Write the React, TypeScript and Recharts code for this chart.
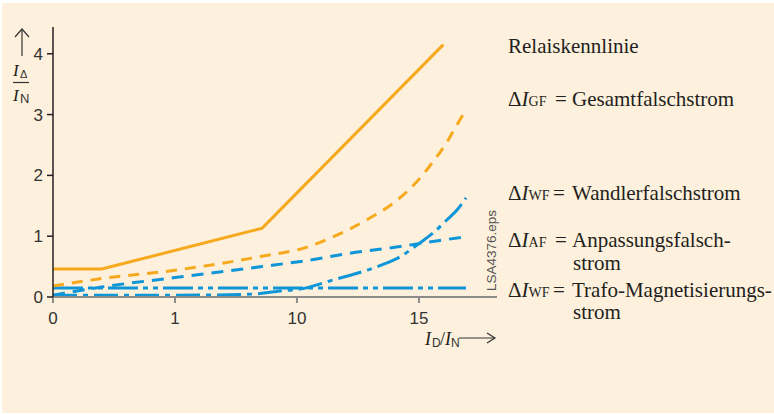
import { LineChart, Line, XAxis, YAxis } from 'recharts'

// x values in I_D/I_N, y values in I_Δ/I_N
const relaisX = [0, 0.4, 7.42, 16]
const relaisY = [0.46, 0.46, 1.13, 4.15]

const gesamtX = [0, 0.385, 1, 7.42, 10.41, 11.48, 12.87, 14.22, 14.92, 15.57, 16.15, 16.48, 16.89]
const gesamtY = [0.18, 0.3, 0.44, 0.67, 0.82, 0.99, 1.27, 1.63, 1.9, 2.22, 2.55, 2.78, 3.05]

const wandlerX = [0, 1, 5.8, 7.42, 8.75, 10.12, 11.48, 12.87, 13.69, 14.22, 15.04, 15.57, 16.15, 16.56, 16.93]
const wandlerY = [0.03, 0.03, 0.04, 0.06, 0.1, 0.13, 0.28, 0.44, 0.56, 0.66, 0.89, 1.05, 1.27, 1.43, 1.63]

const anpassX = [0, 0.385, 1, 7.42, 10.41, 12.17, 14.22, 15.86, 16.89]
const anpassY = [0.03, 0.16, 0.32, 0.5, 0.6, 0.72, 0.83, 0.93, 0.99]

const trafoX = [0, 16.93]
const trafoY = [0.15, 0.15]

// the x axis is stretched piecewise: 0..1, 1..10, 10..15 each get one unit
const xTicks = [0, 1, 10, 15]
const yTicks = [0, 1, 2, 3, 4]

const ORANGE = '#F7A91E'
const BLUE = '#0E96D8'
const INK = '#231F20'
const SERIF = "'Liberation Serif', 'DejaVu Serif', serif"
const SANS = "'Liberation Sans', Arial, sans-serif"

function toAxis(x: number) {
  if (x <= 1) return x
  if (x <= 10) return 1 + (x - 1) / 9
  return 2 + (x - 10) / 5
}

function series(xs: number[], ys: number[]) {
  return xs.map((x, i) => ({ x: toAxis(x), y: ys[i] }))
}

const tickStyle = { fontFamily: SANS, fontSize: 17, fill: '#333' }

export default function App() {
  return (
    <div style={{ position: 'fixed', left: 0, top: 0, width: 774, height: 414, background: '#fff' }}>
      <div style={{ position: 'absolute', left: 2, top: 3, width: 772, height: 410, background: '#FDF0DC' }} />
      <div style={{ position: 'absolute', left: 0, top: 0 }}>
        <LineChart width={774} height={414} margin={{ top: 27, right: 277, bottom: 87, left: 13 }}>
          <XAxis
            dataKey="x"
            type="number"
            domain={[0, 3.64]}
            ticks={xTicks.map(toAxis)}
            tickFormatter={(v: number) => String(xTicks[Math.round(v)])}
            allowDataOverflow
            height={30}
            stroke="#8C8C8C"
            strokeWidth={2}
            tickSize={6}
            tickMargin={9}
            tick={tickStyle}
          />
          <YAxis
            type="number"
            domain={[0, 4.44]}
            ticks={yTicks}
            allowDataOverflow
            width={40}
            stroke="#231F20"
            strokeWidth={1.5}
            tickSize={6}
            tickMargin={4}
            tick={tickStyle}
          />
          <Line data={series(trafoX, trafoY)} dataKey="y" type="linear" stroke={BLUE} strokeWidth={3}
            strokeDasharray="30 5 5 5 5 5" dot={false} isAnimationActive={false} />
          <Line data={series(wandlerX, wandlerY)} dataKey="y" type="monotone" stroke={BLUE} strokeWidth={3}
            strokeDasharray="24 6 5 6" dot={false} isAnimationActive={false} />
          <Line data={series(anpassX, anpassY)} dataKey="y" type="monotone" stroke={BLUE} strokeWidth={3}
            strokeDasharray="12 8" dot={false} isAnimationActive={false} />
          <Line data={series(gesamtX, gesamtY)} dataKey="y" type="monotone" stroke={ORANGE} strokeWidth={3}
            strokeDasharray="11 8" dot={false} isAnimationActive={false} />
          <Line data={series(relaisX, relaisY)} dataKey="y" type="linear" stroke={ORANGE} strokeWidth={3}
            dot={false} isAnimationActive={false} />
        </LineChart>
      </div>

      <svg width={774} height={414} style={{ position: 'absolute', left: 0, top: 0, pointerEvents: 'none' }}>
        {/* y label */}
        <g stroke="#333" strokeWidth={1.2} fill="none">
          <line x1={22} y1={29} x2={22} y2={56} />
          <polyline points="15,37 22,29 29,37" />
          <line x1={13} y1={82.5} x2={29} y2={82.5} />
        </g>
        <text x={13} y={76} fontFamily={SERIF} fontSize={17} fontStyle="italic" fill={INK}>I</text>
        <text x={20} y={78} fontFamily={SANS} fontSize={11} fill="#333">Δ</text>
        <text x={13} y={101} fontFamily={SERIF} fontSize={17} fontStyle="italic" fill={INK}>I</text>
        <text x={20} y={103} fontFamily={SANS} fontSize={13} fill="#333">N</text>

        {/* x label */}
        <text x={425} y={345} fontFamily={SERIF} fontSize={18} fontStyle="italic" fill={INK}>I</text>
        <text x={432} y={347} fontFamily={SANS} fontSize={12} fill="#333">D</text>
        <text x={440} y={345} fontFamily={SERIF} fontSize={18} fill={INK}>/</text>
        <text x={445} y={345} fontFamily={SERIF} fontSize={18} fontStyle="italic" fill={INK}>I</text>
        <text x={451} y={347} fontFamily={SANS} fontSize={12} fill="#333">N</text>
        <g stroke="#333" strokeWidth={1.2} fill="none">
          <line x1={459} y1={338} x2={495} y2={338} />
          <polyline points="487,333 495,338 487,343" />
        </g>

        <text transform="translate(496 291) rotate(-90)" fontFamily={SANS} fontSize={13.5} fill="#555">LSA4376.eps</text>

        {/* legend */}
        <g fontFamily={SERIF} fontSize={21} fill={INK}>
          <text x={508} y={53}>Relaiskennlinie</text>

          <text x={508} y={106}>Δ<tspan fontStyle="italic">I</tspan><tspan fontSize={14}>GF</tspan></text>
          <text x={555} y={106}>=</text>
          <text x={572} y={106}>Gesamtfalschstrom</text>

          <text x={508} y={200}>Δ<tspan fontStyle="italic">I</tspan><tspan fontSize={14}>WF</tspan></text>
          <text x={553} y={200}>=</text>
          <text x={572} y={200}>Wandlerfalschstrom</text>

          <text x={508} y={247}>Δ<tspan fontStyle="italic">I</tspan><tspan fontSize={14}>AF</tspan></text>
          <text x={555} y={247}>=</text>
          <text x={572} y={247}>Anpassungsfalsch-</text>
          <text x={573} y={270}>strom</text>

          <text x={508} y={297}>Δ<tspan fontStyle="italic">I</tspan><tspan fontSize={14}>WF</tspan></text>
          <text x={553} y={297}>=</text>
          <text x={572} y={297}>Trafo-Magnetisierungs-</text>
          <text x={573} y={319}>strom</text>
        </g>
      </svg>
    </div>
  )
}
